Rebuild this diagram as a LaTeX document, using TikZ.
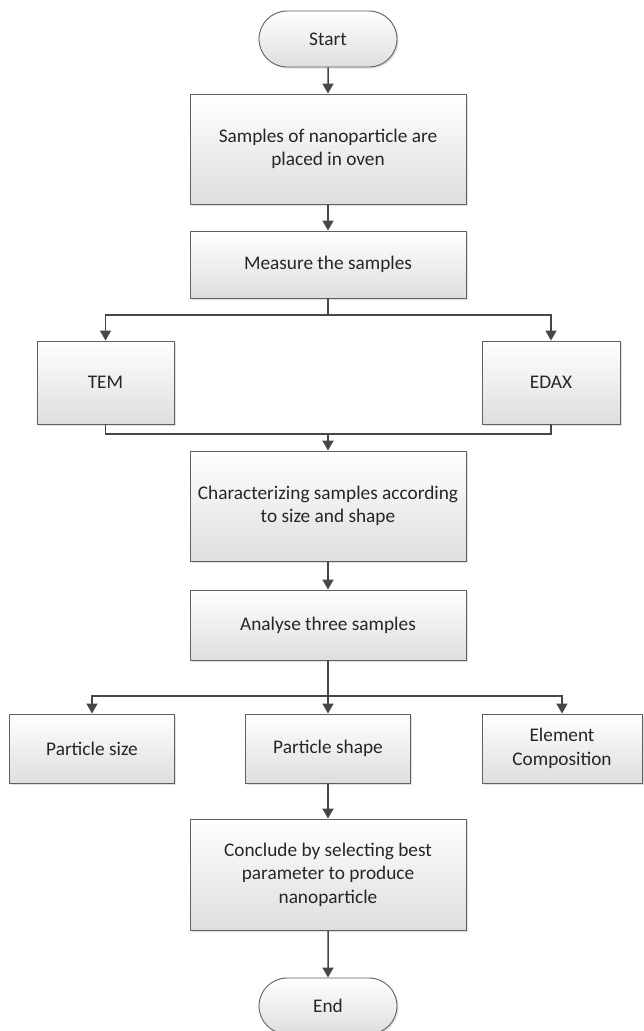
\documentclass[tikz,border=0pt]{standalone}
\usepackage{fontspec}
\setmainfont{Carlito}
\usetikzlibrary{arrows.meta,shapes.misc,shadows}

\begin{document}
\begin{tikzpicture}[x=1pt, y=-1pt,
    procbox/.style={draw=black!62, line width=0.9pt, top color=white, bottom color=black!13,
        align=center, inner sep=0pt, text=black!85, font=\fontsize{19.3}{23.5}\selectfont,
        drop shadow={shadow xshift=1.5pt, shadow yshift=-1.5pt, opacity=0.25}},
    termbox/.style={procbox, rounded rectangle, minimum width=138pt, minimum height=56pt},
    conn/.style={line width=1.5pt, draw=black!72},
    arr/.style={conn, -{Triangle[width=11pt,length=10pt]}}]
        \useasboundingbox (0,0) rectangle (643,1031);

        % Start and first steps
        \node[termbox] (start) at (328,39) {Start};
        \node[procbox, minimum width=276pt, minimum height=110pt] (samples) at (328,149) {Samples of nanoparticle are\\placed in oven};
        \node[procbox, minimum width=276pt, minimum height=67pt] (measure) at (328,264.5) {Measure the samples};

        % Measurements
        \node[procbox, minimum width=137pt, minimum height=83pt] (tem) at (105.5,382.5) {TEM};
        \node[procbox, minimum width=138pt, minimum height=83pt] (edax) at (551,382.5) {EDAX};

        % Characterization
        \node[procbox, minimum width=276pt, minimum height=110pt] (charac) at (328,506) {Characterizing samples according\\to size and shape};
        \node[procbox, minimum width=276pt, minimum height=70pt] (analyse) at (328,625) {Analyse three samples};

        % Three results
        \node[procbox, minimum width=165pt, minimum height=69pt] (psize) at (92,748.5) {Particle size};
        \node[procbox, minimum width=165pt, minimum height=69pt] (pshape) at (328,748.5) {Particle shape};
        \node[procbox, minimum width=160pt, minimum height=69pt] (elem) at (562,748.5) {Element\\Composition};

        % Conclusion
        \node[procbox, minimum width=276pt, minimum height=111pt] (concl) at (328,874.5) {Conclude by selecting best\\parameter to produce\\nanoparticle};
        \node[termbox] (end) at (328,1006) {End};

        % Connectors
        \coordinate (fork1) at (328,315);
        \coordinate (join1) at (328,434);
        \coordinate (fork2) at (328,696);
        \draw[arr] (start) -- (samples);
        \draw[arr] (samples) -- (measure);
        \draw[conn] (measure) -- (fork1);
        \draw[arr] (fork1) -| (tem);
        \draw[arr] (fork1) -| (edax);
        \draw[conn] (tem) |- (join1) -| (edax);
        \draw[arr] (join1) -- (charac);
        \draw[arr] (charac) -- (analyse);
        \draw[conn] (analyse) -- (fork2);
        \draw[arr] (fork2) -| (psize);
        \draw[arr] (fork2) -- (pshape);
        \draw[arr] (fork2) -| (elem);
        \draw[arr] (pshape) -- (concl);
        \draw[arr] (concl) -- (end);
    \end{tikzpicture}
\end{document}
